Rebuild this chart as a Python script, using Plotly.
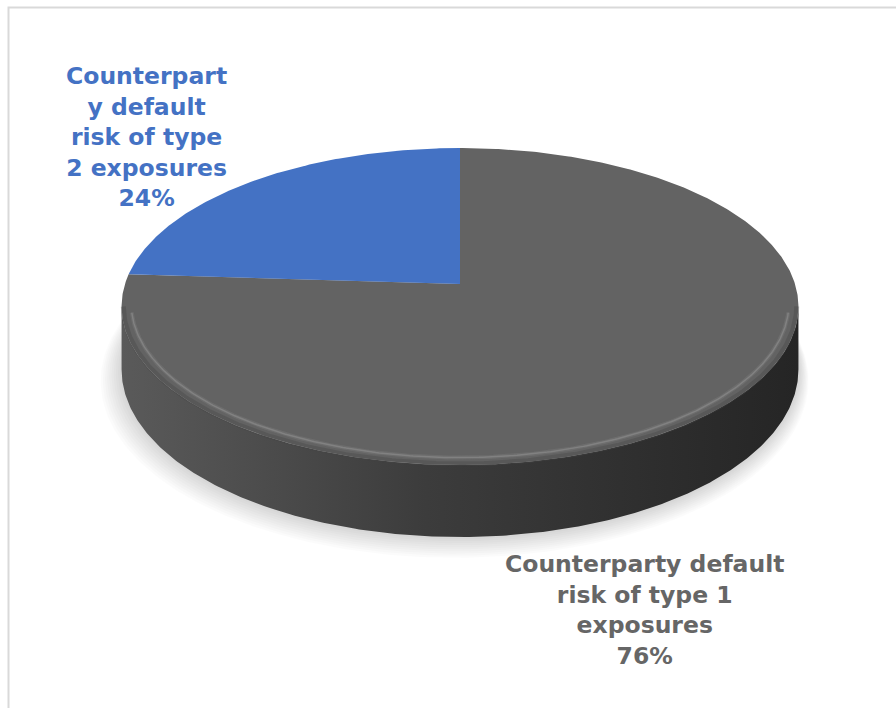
import numpy as np
import plotly.graph_objects as go

# ---- data ----
labels = ["Counterparty default<br>risk of type 1<br>exposures",
          "Counterpart<br>y default<br>risk of type<br>2 exposures"]
values = [76, 24]
colors = ["#636363", "#4472C4"]
label_colors = ["#666666", "#4472C4"]

# ---- geometry of the tilted 3D pie (pixel axes) ----
CX, CY = 460, 284
A, B = 335.0, 155.3
K = 0.142
H = 61.8


def proj(theta_deg, drop=0.0, scale=1.0):
    t = np.radians(np.asarray(theta_deg, dtype=float))
    X = scale * np.cos(t)
    Y = scale * np.sin(t)
    f = 1.0 / (1.0 + K * Y)
    return CX + A * X * f, CY - B * Y * f + drop * f


fig = go.Figure()

# soft shadow
for i in range(10):
    t = np.linspace(0, 360, 361)
    sc = 1.0 + 0.0045 * (i + 1)
    xs, ys = proj(t, drop=H + 1 + 0.9 * i, scale=sc)
    xs = xs - 0.6 * i
    fig.add_trace(go.Scatter(x=xs, y=ys, fill="toself", mode="lines",
                             line=dict(width=0), fillcolor="rgba(0,0,0,0.016)",
                             hoverinfo="skip", showlegend=False))

# side wall
sil = np.degrees(np.arcsin(K))
t_side = np.linspace(180 + sil, 360 - sil, 300)
xt, yt = proj(t_side)
xb, yb = proj(t_side[::-1], drop=H)
fig.add_trace(go.Scatter(
    x=np.concatenate([xt, xb]), y=np.concatenate([yt, yb]),
    fill="toself", mode="lines", line=dict(width=0),
    fillgradient=dict(type="horizontal",
                      colorscale=[[0, "#5a5a5a"], [0.45, "#3c3c3c"], [1, "#252525"]]),
    hoverinfo="skip", showlegend=False))

# top face slices (Excel: start at 12 o'clock, clockwise)
total = sum(values)
start = 90.0
for v, c in zip(values, colors):
    sweep = 360.0 * v / total
    t = np.linspace(start, start - sweep, max(int(sweep * 2), 10))
    xs, ys = proj(t)
    fig.add_trace(go.Scatter(
        x=np.concatenate([[CX], xs, [CX]]), y=np.concatenate([[CY], ys, [CY]]),
        fill="toself", mode="lines", line=dict(width=0), fillcolor=c,
        hoverinfo="skip", showlegend=False))
    start -= sweep

# bevel: darker outer band and soft highlight on the front rim
t_rim = np.linspace(180 + sil, 360 - sil, 300)
xo, yo = proj(t_rim, scale=0.995)
fig.add_trace(go.Scatter(x=xo, y=yo, mode="lines",
                         line=dict(width=5, color="rgba(70,70,70,0.35)"),
                         hoverinfo="skip", showlegend=False))
t_rim2 = np.linspace(180 + sil + 3, 360 - sil - 3, 300)
xr, yr = proj(t_rim2, scale=0.972)
fig.add_trace(go.Scatter(x=xr, y=yr - 1.5, mode="lines",
                         line=dict(width=4, color="rgba(130,130,130,0.35)"),
                         hoverinfo="skip", showlegend=False))
fig.add_trace(go.Scatter(x=xr, y=yr - 1.5, mode="lines",
                         line=dict(width=1.5, color="rgba(150,150,150,0.5)"),
                         hoverinfo="skip", showlegend=False))

# labels
pcts = [round(100 * v / total) for v in values]
label_pos = [(644, 610), (146, 137)]
for lab, p, lc, (lx, ly) in zip(labels, pcts, label_colors, label_pos):
    fig.add_annotation(x=lx, y=ly, xref="x", yref="y", showarrow=False,
                       text=f"{lab}<br>{p}%", align="center",
                       font=dict(family="DejaVu Sans", size=23.5, color=lc,
                                 weight="bold"))

fig.add_shape(type="rect", xref="x", yref="y", x0=8.5, y0=7.5, x1=905, y1=720,
              line=dict(color="#d9d9d9", width=2), fillcolor="rgba(0,0,0,0)",
              layer="below")

fig.update_layout(
    width=896, height=708,
    margin=dict(l=0, r=0, t=0, b=0),
    paper_bgcolor="white", plot_bgcolor="white",
    xaxis=dict(range=[0, 896], visible=False, fixedrange=True),
    yaxis=dict(range=[708, 0], visible=False, fixedrange=True),
    showlegend=False,
)

fig.write_html("out.html")
